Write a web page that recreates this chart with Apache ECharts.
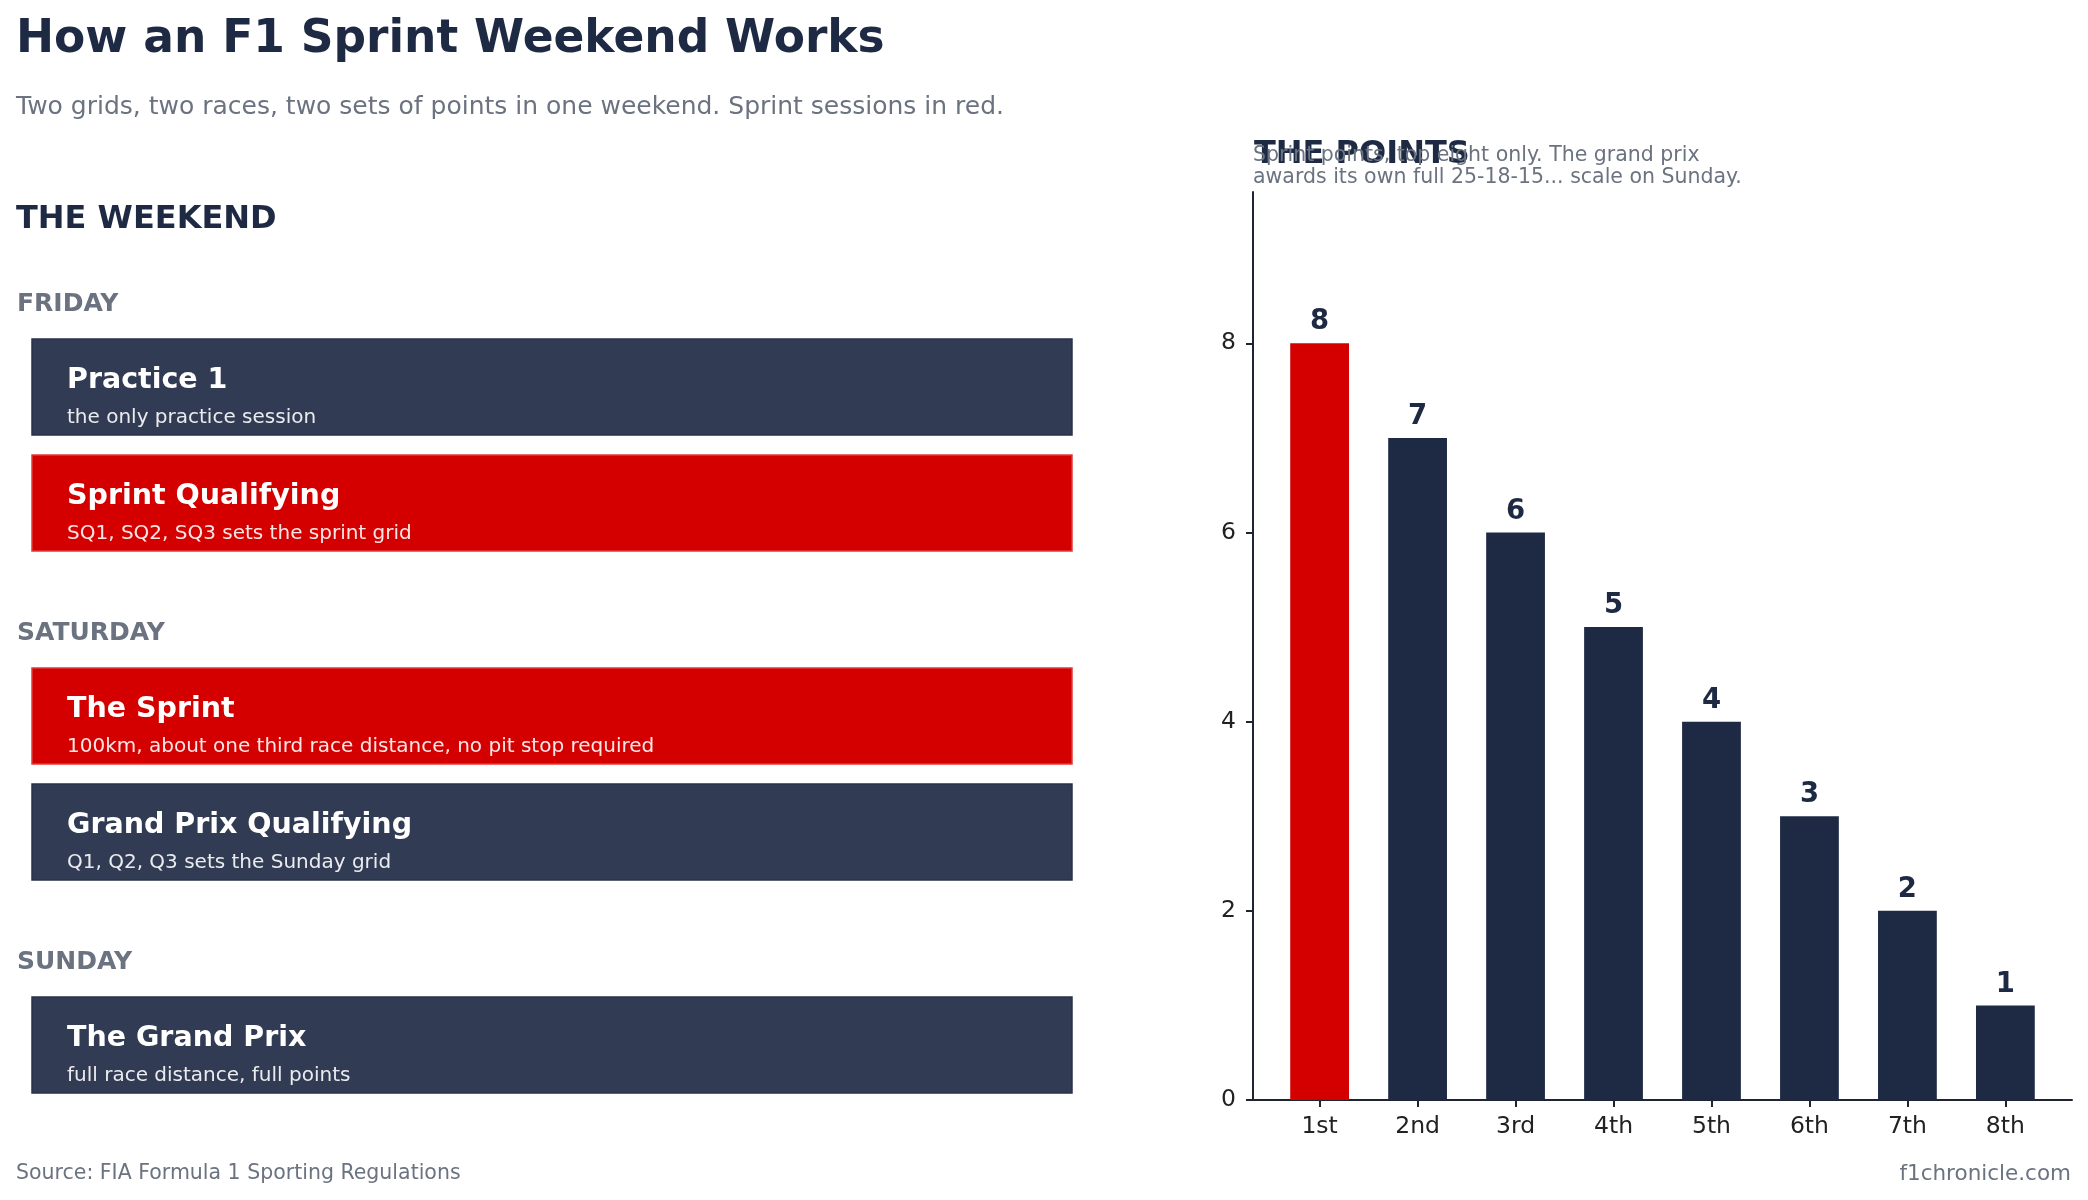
<!DOCTYPE html>
<html>
<head>
<meta charset="utf-8">
<title>How an F1 Sprint Weekend Works</title>
<script src="https://cdn.jsdelivr.net/npm/echarts@6/dist/echarts.min.js"></script>
<style>
  html, body { margin: 0; padding: 0; background: #ffffff; }
  #main { width: 2088px; height: 1200px; }
</style>
</head>
<body>
<div id="main"></div>
<script>
// weekend schedule
const days = ['FRIDAY', 'SATURDAY', 'SUNDAY'];
const sessionNames = ['Practice 1', 'Sprint Qualifying', 'The Sprint', 'Grand Prix Qualifying', 'The Grand Prix'];
const sessionNotes = [
  'the only practice session',
  'SQ1, SQ2, SQ3 sets the sprint grid',
  '100km, about one third race distance, no pit stop required',
  'Q1, Q2, Q3 sets the Sunday grid',
  'full race distance, full points'
];
const sessionDay = [0, 0, 1, 1, 2];
const sessionSprint = [false, true, true, false, false];

// sprint points
const positions = ['1st', '2nd', '3rd', '4th', '5th', '6th', '7th', '8th'];
const sprintPoints = [8, 7, 6, 5, 4, 3, 2, 1];
const yTicks = [0, 2, 4, 6, 8];

const FONT = 'DejaVu Sans';
const NAVY = '#1e2a44';
const RED = '#d40000';
const GREY = '#6b7280';

const chart = echarts.init(document.getElementById('main'), null, { renderer: 'canvas' });

function txt(x, y, text, size, color, weight, align) {
  return {
    type: 'text',
    style: {
      x: x, y: y, text: text,
      font: (weight || 'normal') + ' ' + size + 'px "' + FONT + '"',
      fill: color,
      textAlign: align || 'left',
      textVerticalAlign: 'middle'
    }
  };
}

// left panel: day labels and session boxes
const graphics = [];
graphics.push(txt(16, 40, 'How an F1 Sprint Weekend Works', 45.5, NAVY, 'bold'));
graphics.push(txt(16, 107, 'Two grids, two races, two sets of points in one weekend. Sprint sessions in red.', 25, GREY));
graphics.push(txt(16, 220, 'THE WEEKEND', 32, NAVY, 'bold'));
graphics.push(txt(1254, 155, 'THE POINTS', 32, NAVY, 'bold'));
graphics.push(txt(1253, 156, 'Sprint points, top eight only. The grand prix', 20.5, GREY));
graphics.push(txt(1253, 178, 'awards its own full 25-18-15... scale on Sunday.', 20.5, GREY));
graphics.push(txt(16, 1174, 'Source: FIA Formula 1 Sporting Regulations', 20.5, GREY));
graphics.push(txt(2071, 1174, 'f1chronicle.com', 21.5, GREY, 'normal', 'right'));

let y = 304;
days.forEach(function (day, d) {
  graphics.push(txt(17, y, day, 25, GREY, 'bold'));
  let top = y + 35;
  sessionNames.forEach(function (name, i) {
    if (sessionDay[i] !== d) return;
    const sprint = sessionSprint[i];
    graphics.push({
      type: 'rect',
      shape: { x: 32, y: top, width: 1040, height: 96 },
      style: {
        fill: sprint ? RED : '#313b53',
        stroke: sprint ? '#e03a3a' : '#27324a',
        lineWidth: 1.5
      }
    });
    graphics.push(txt(67, top + 42, name, 28.5, '#ffffff', 'bold'));
    graphics.push(txt(67, top + 79, sessionNotes[i], 20, 'rgba(255,255,255,0.9)'));
    top += 116;
  });
  y = top + 62;
});

// right panel: bar chart
const xMin = -0.68, xMax = 7.68;
const gridLeft = 1253, gridRight = 16;
const gridWidth = 2088 - gridLeft - gridRight;
const barWidth = 0.6 * gridWidth / (xMax - xMin);
const posIdx = positions.map(function (p, i) { return i; });

const option = {
  animation: false,
  backgroundColor: '#ffffff',
  textStyle: { fontFamily: FONT },
  grid: { left: gridLeft, right: gridRight, top: 192, bottom: 100 },
  xAxis: {
    type: 'value',
    min: xMin,
    max: xMax,
    axisLine: { show: true, onZero: false, lineStyle: { color: '#1f2433', width: 2 } },
    axisTick: { show: true, customValues: posIdx, length: 7, lineStyle: { color: '#1f2433', width: 2 } },
    axisLabel: {
      customValues: posIdx,
      formatter: function (v) { return positions[Math.round(v)]; },
      fontSize: 23.5, color: '#222222', margin: 15, fontFamily: FONT
    },
    splitLine: { show: false }
  },
  yAxis: {
    type: 'value',
    min: 0,
    max: 9.6,
    axisLine: { show: true, onZero: false, lineStyle: { color: '#1f2433', width: 2 } },
    axisTick: { show: true, customValues: yTicks, length: 7, lineStyle: { color: '#1f2433', width: 2 } },
    axisLabel: { customValues: yTicks, fontSize: 23.5, color: '#222222', margin: 17, fontFamily: FONT },
    splitLine: { show: false }
  },
  series: [{
    type: 'bar',
    barWidth: barWidth,
    data: sprintPoints.map(function (v, i) {
      return { value: [i, v], itemStyle: { color: i === 0 ? RED : NAVY } };
    }),
    label: {
      show: true,
      position: 'top',
      distance: 7,
      formatter: function (p) { return p.value[1]; },
      fontSize: 27.5,
      fontWeight: 'bold',
      color: NAVY,
      fontFamily: FONT
    }
  }],
  graphic: graphics
};

chart.setOption(option);
</script>
</body>
</html>
